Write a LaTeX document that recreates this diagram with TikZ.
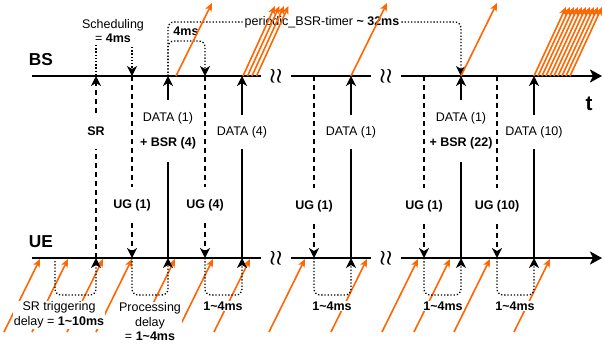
\documentclass[tikz,border=0pt,12pt]{standalone}
\usepackage{fontspec}
\setmainfont{Liberation Sans}
\usetikzlibrary{arrows.meta}
\definecolor{orng}{HTML}{FF6600}
\newcommand{\tld}{\textasciitilde}

\begin{document}
\begin{tikzpicture}[x=1pt,y=-1pt,
    every node/.style={font=\fontsize{12.5}{14.5}\selectfont},
    axis/.style={line width=2.4pt},
    sig/.style={line width=1.6pt,-{Stealth[length=10pt,width=10pt,inset=3pt]}},
    req/.style={sig,dash pattern=on 5pt off 4pt},
    tmr/.style={sig,line width=1.3pt,dash pattern=on 1.3pt off 1.9pt,rounded corners=6pt},
    pkt/.style={orng,line width=1.6pt,-{Stealth[length=8pt,width=7pt,inset=2pt]}},
    brk/.style={inner xsep=8pt,inner ysep=0pt,font=\boldmath\LARGE},
    lbl/.style={align=center,inner sep=0pt},
    note/.style={align=center,fill=white,inner sep=1pt}]
  \useasboundingbox (0,0) rectangle (605,343);

  \node[font=\Large\bfseries] (BS) at (41,60) {BS};
  \node[font=\Large\bfseries] (UE) at (41,242) {UE};
  \node[font=\LARGE\bfseries] (t) at (589,104) {t};

  \node[brk] (k1) at (276,76) {$\wr\wr$};
  \node[brk] (k2) at (386,76) {$\wr\wr$};
  \node[brk] (k3) at (276,258) {$\wr\wr$};
  \node[brk] (k4) at (386,258) {$\wr\wr$};
  \coordinate (bs0) at (32,76);
  \coordinate (bsT) at (602,76);
  \coordinate (ue0) at (32,258);
  \coordinate (ueT) at (602,258);
  \draw[axis,-{Stealth[length=12pt,width=13pt,inset=3pt]}] (bs0) -- (k1) (k1) -- (k2) (k2) -- (bsT);
  \draw[axis,-{Stealth[length=12pt,width=13pt,inset=3pt]}] (ue0) -- (k3) (k3) -- (k4) (k4) -- (ueT);

  \foreach \n/\p in {1/96,2/132,3/168,4/205,5/242,6/314,7/351,8/424,9/461,10/497,11/534}
    {\coordinate (b\n) at (\p,76); \coordinate (u\n) at (\p,258);}

  \node[lbl,minimum height=36pt] (sr) at (96,131) {\textbf{SR}};
  \node[lbl,minimum height=36pt] (ug1) at (132,205) {\textbf{UG (1)}};
  \node[lbl,minimum height=61pt] (d1) at (168,131) {DATA (1)\\[10pt]\textbf{+ BSR (4)}};
  \node[lbl,minimum height=36pt] (ug2) at (205,205) {\textbf{UG (4)}};
  \node[lbl,minimum height=33pt] (d2) at (242,132) {DATA (4)};
  \node[lbl,minimum height=36pt] (ug3) at (314,206) {\textbf{UG (1)}};
  \node[lbl,minimum height=33pt] (d3) at (351,132) {DATA (1)};
  \node[lbl,minimum height=36pt] (ug4) at (424,206) {\textbf{UG (1)}};
  \node[lbl,minimum height=61pt] (d4) at (461,131) {DATA (1)\\[10pt]\textbf{+ BSR (22)}};
  \node[lbl,minimum height=36pt] (ug5) at (497,206) {\textbf{UG (10)}};
  \node[lbl,minimum height=33pt] (d5) at (534,132) {DATA (10)};

  \draw[req] (u1) -- (sr) (sr) -- (b1);
  \draw[req] (b2) -- (ug1) (ug1) -- (u2);
  \draw[sig] (u3) -- (d1) (d1) -- (b3);
  \draw[req] (b4) -- (ug2) (ug2) -- (u4);
  \draw[sig] (u5) -- (d2) (d2) -- (b5);
  \draw[req] (b6) -- (ug3) (ug3) -- (u6);
  \draw[sig] (u7) -- (d3) (d3) -- (b7);
  \draw[req] (b8) -- (ug4) (ug4) -- (u8);
  \draw[sig] (u9) -- (d4) (d4) -- (b9);
  \draw[req] (b10) -- (ug5) (ug5) -- (u10);
  \draw[sig] (u11) -- (d5) (d5) -- (b11);

  \node[lbl] (sch) at (113,31) {Scheduling\\= \textbf{4ms}};
  \coordinate (s1) at (96,45);
  \coordinate (s2) at (132,47);
  \draw[tmr,-] (s1) -- (b1);
  \draw[tmr] (s2) -- (b2);
  \coordinate (t4) at (186,41);
  \draw[tmr] (b3) |- (t4) -| (b4);
  \node[lbl] (f4) at (186,31) {\textbf{4ms}};
  \node[lbl,inner sep=2pt] (per) at (322,22) {periodic\_BSR-timer \textbf{\tld{} 32ms}};
  \draw[tmr] (b3) |- (per) -| (b9);

  \foreach \p in {176,351,461}
    \draw[pkt] (\p,76) -- ++(36,-73);
  \foreach \i in {0,...,3}
    \draw[pkt] (243+4.5*\i,76) -- ++(32,-70);
  \foreach \i in {0,...,9}
    \draw[pkt] (534+4*\i,76) -- ++(32,-69);
  \foreach \p in {40,68,103,132,175,213,250,305,367,418,450,490,550}
    \draw[pkt] (\p-36,332) -- (\p,259);

  \coordinate (c0) at (55,261);
  \coordinate (m0) at (75,295);
  \draw[tmr] (c0) |- (m0) -| (u1);
  \foreach \a/\b/\m in {2/3/150,4/5/223,6/7/332,8/9/443,10/11/515}
    {\coordinate (m\a) at (\m,295); \draw[tmr] (u\a) |- (m\a) -| (u\b);}

  \node[note] (trg) at (59,315) {SR triggering\\delay = \textbf{1\tld10ms}};
  \node[note] (prc) at (150,322) {Processing\\delay\\= \textbf{1\tld4ms}};
  \node[note] (p4) at (223,306) {\textbf{1\tld4ms}};
  \node[note] (p6) at (332,306) {\textbf{1\tld4ms}};
  \node[note] (p8) at (443,306) {\textbf{1\tld4ms}};
  \node[note] (p10) at (515,306) {\textbf{1\tld4ms}};
\end{tikzpicture}
\end{document}
